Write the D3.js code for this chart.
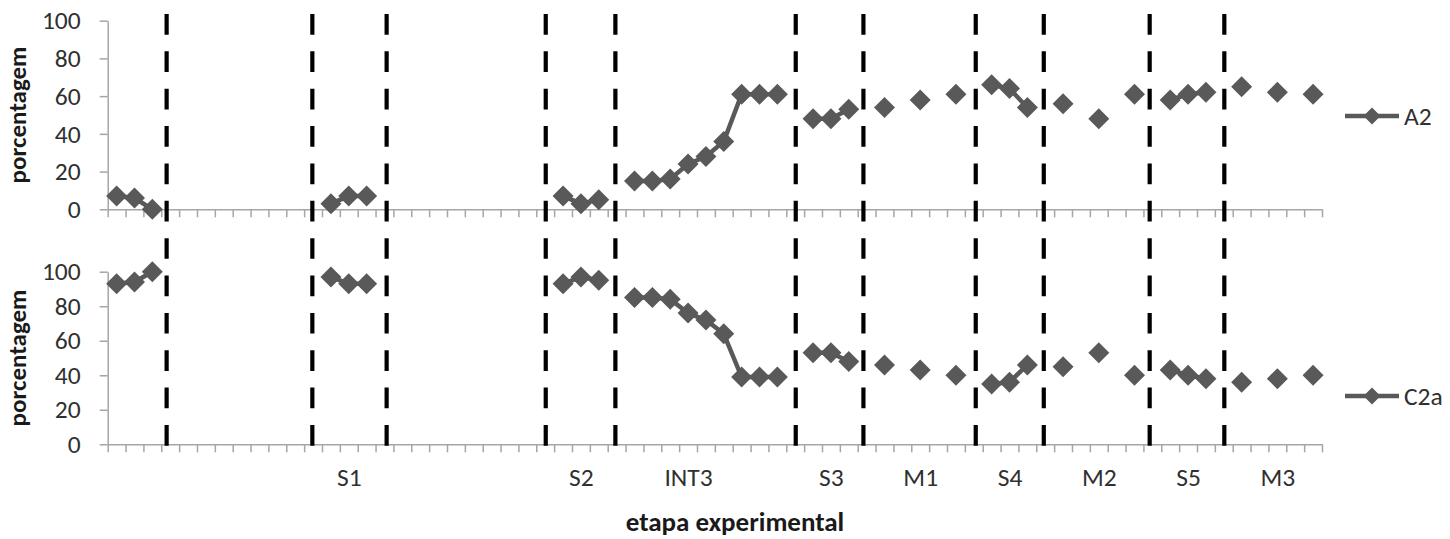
<!DOCTYPE html>
<html>
<head>
<meta charset="utf-8">
<script src="https://cdn.jsdelivr.net/npm/d3@7"></script>
<style>
  html, body { margin: 0; padding: 0; background: #fff; }
  svg { display: block; }
  text { font-family: Carlito, Calibri, Lato, sans-serif; }
</style>
</head>
<body>
<svg id="chart" width="1450" height="539"></svg>
<script>
// Category labels along the experimental sequence (68 sessions; most unlabeled)
const categories = [
  "", "", "", "", "", "", "", "", "", "", "", "", "", "S1", "", "", "", "",
  "", "", "", "", "", "", "", "", "S2", "", "", "", "", "", "INT3", "", "", "",
  "", "", "", "", "S3", "", "", "", "", "M1", "", "", "", "", "S4", "", "", "",
  "", "M2", "", "", "", "", "S5", "", "", "", "", "M3", "", ""
];

// Percentage of A2 choices per session (null = no session)
const seriesA2 = [
  7, 6, 0, null, null, null, null, null, null, null, null, null,
  3, 7, 7, null, null, null, null, null, null, null, null, null, null,
  7, 3, 5, null,
  15, 15, 16, 24, 28, 36, 61, 61, 61, null,
  48, 48, 53, null,
  54, null, 58, null, 61, null,
  66, 64, 54, null,
  56, null, 48, null, 61, null,
  58, 61, 62, null,
  65, null, 62, null, 61
];

// Percentage of C2a choices per session
const seriesC2a = [
  93, 94, 100, null, null, null, null, null, null, null, null, null,
  97, 93, 93, null, null, null, null, null, null, null, null, null, null,
  93, 97, 95, null,
  85, 85, 84, 76, 72, 64, 39, 39, 39, null,
  53, 53, 48, null,
  46, null, 43, null, 40, null,
  35, 36, 46, null,
  45, null, 53, null, 40, null,
  43, 40, 38, null,
  36, null, 38, null, 40
];

// Boundaries between experimental phases, in session units
const phaseBreaks = [3.3, 11.46, 15.62, 24.53, 28.43, 38.53, 42.32, 48.61, 52.42, 58.35, 62.53];

const yTicks = [0, 20, 40, 60, 80, 100];

const svg = d3.select("#chart");
const markColor = "#595959";
const axisColor = "#a6a6a6";
const textColor = "#303030";
const titleColor = "#1a1a1a";
const labelSize = "25.5px";

const x = d3.scaleLinear().domain([0, categories.length]).range([107.7, 1322]);

const panels = [
  { name: "A2",  values: seriesA2,  y: d3.scaleLinear().domain([0, 100]).range([209.3, 20.7]),  legendY: 116, showLabels: false },
  { name: "C2a", values: seriesC2a, y: d3.scaleLinear().domain([0, 100]).range([444.3, 271.7]), legendY: 396, showLabels: true }
];

const diamond = (r) => `M0,${-r}L${r},0L0,${r}L${-r},0Z`;

panels.forEach(p => {
  const g = svg.append("g");
  const [y0, y1] = p.y.range();

  // y axis
  const yAxis = g.append("g")
    .attr("transform", `translate(${x(0)},0)`)
    .call(d3.axisLeft(p.y).tickValues(yTicks).tickSize(8).tickPadding(19).tickSizeOuter(0));
  yAxis.select(".domain").attr("stroke", axisColor).attr("stroke-width", 1.5);
  yAxis.selectAll(".tick line").attr("stroke", axisColor).attr("stroke-width", 1.5);
  yAxis.selectAll(".tick text").attr("fill", textColor).style("font-size", labelSize);

  // x axis with a tick at every session boundary
  const xAxis = g.append("g")
    .attr("transform", `translate(0,${y0})`)
    .call(d3.axisBottom(x).tickValues(d3.range(0, categories.length + 1)).tickFormat("").tickSize(8).tickSizeOuter(0));
  xAxis.select(".domain").attr("stroke", axisColor).attr("stroke-width", 1.5);
  xAxis.selectAll(".tick line").attr("stroke", axisColor).attr("stroke-width", 1.5);

  // phase names under the lower panel
  if (p.showLabels) {
    const labelIdx = categories.map((c, i) => i).filter(i => categories[i] !== "");
    const lab = g.append("g")
      .attr("transform", `translate(0,${y0})`)
      .call(d3.axisBottom(x).tickValues(labelIdx.map(i => i + 0.5))
        .tickFormat(v => categories[Math.floor(v)]).tickSize(0).tickPadding(24));
    lab.select(".domain").remove();
    lab.selectAll(".tick text").attr("fill", textColor).style("font-size", labelSize);
  }

  // y axis title
  g.append("text")
    .attr("transform", `translate(26,${(y0 + y1) / 2}) rotate(-90)`)
    .attr("text-anchor", "middle")
    .attr("fill", titleColor)
    .style("font-size", "25px").style("font-weight", "bold")
    .text("porcentagem");

  // series line, broken where sessions are missing
  const line = d3.line()
    .defined(d => d != null)
    .x((d, i) => x(i + 0.5))
    .y(d => p.y(d));
  g.append("path")
    .attr("d", line(p.values))
    .attr("fill", "none")
    .attr("stroke", markColor)
    .attr("stroke-width", 4.5)
    .attr("stroke-linejoin", "round");

  // diamond markers
  g.selectAll("path.marker")
    .data(p.values.map((v, i) => ({ v, i })).filter(d => d.v != null))
    .join("path")
    .attr("class", "marker")
    .attr("transform", d => `translate(${x(d.i + 0.5)},${p.y(d.v)})`)
    .attr("d", diamond(10.5))
    .attr("fill", markColor);

  // legend
  const lg = g.append("g").attr("transform", `translate(1345,${p.legendY})`);
  lg.append("line").attr("x1", 0).attr("x2", 54).attr("y1", 0).attr("y2", 0)
    .attr("stroke", markColor).attr("stroke-width", 4.5);
  lg.append("path").attr("transform", "translate(27,0)").attr("d", diamond(8.5)).attr("fill", markColor);
  lg.append("text").attr("x", 59).attr("y", 0).attr("dy", "0.35em")
    .attr("fill", textColor).style("font-size", labelSize).text(p.name);
});

// phase-change dashed lines spanning both panels
svg.append("g").selectAll("line")
  .data(phaseBreaks)
  .join("line")
  .attr("x1", d => x(d)).attr("x2", d => x(d))
  .attr("y1", 14).attr("y2", 446)
  .attr("stroke", "#000")
  .attr("stroke-width", 4.2)
  .attr("stroke-dasharray", "20.7,16.66");

// x axis title
svg.append("text")
  .attr("x", 735).attr("y", 531)
  .attr("text-anchor", "middle")
  .attr("fill", titleColor)
  .style("font-size", "27px").style("font-weight", "bold")
  .text("etapa experimental");
</script>
</body>
</html>
